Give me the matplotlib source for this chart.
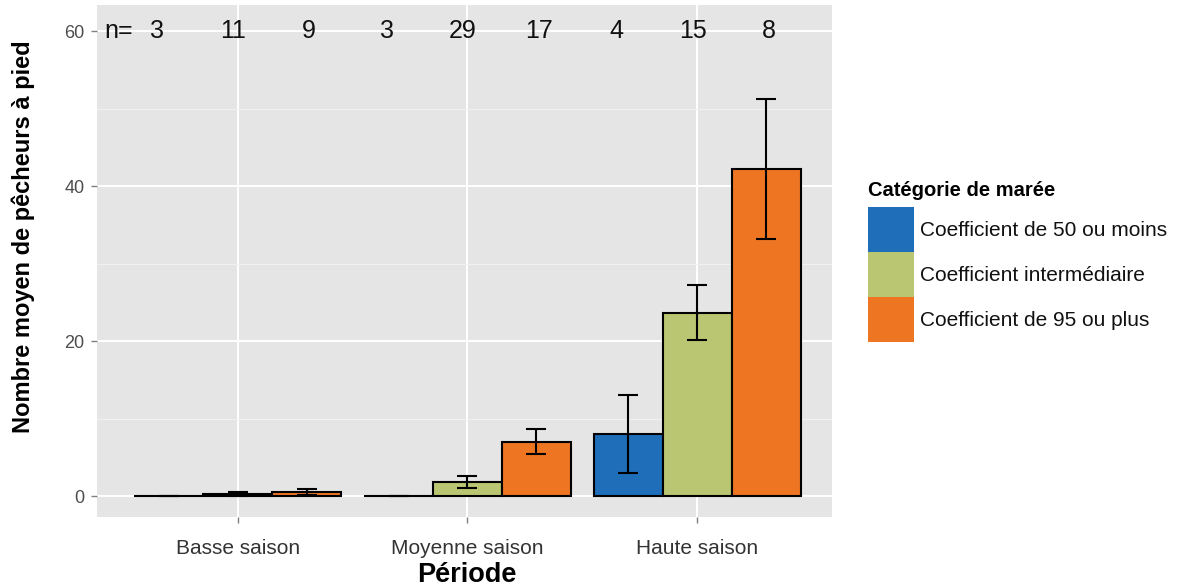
import matplotlib
matplotlib.use("Agg")
import matplotlib.pyplot as plt
from matplotlib.patches import Rectangle
import numpy as np

plt.rcParams['font.family'] = ['Liberation Sans', 'DejaVu Sans']

periods = ["Basse saison", "Moyenne saison", "Haute saison"]
series = ["Coefficient de 50 ou moins", "Coefficient intermédiaire", "Coefficient de 95 ou plus"]
colors = ["#1E6EB9", "#BAC672", "#EE7623"]
means = {
    "Coefficient de 50 ou moins": [0.0, 0.0, 8.0],
    "Coefficient intermédiaire": [0.25, 1.8, 23.7],
    "Coefficient de 95 ou plus": [0.5, 7.0, 42.2],
}
errors = {
    "Coefficient de 50 ou moins": [0.0, 0.0, 5.0],
    "Coefficient intermédiaire": [0.25, 0.8, 3.6],
    "Coefficient de 95 ou plus": [0.4, 1.6, 9.0],
}
n_counts = [[3, 11, 9], [3, 29, 17], [4, 15, 8]]
yticks = [0, 20, 40, 60]

W, H = 1182, 587
fig = plt.figure(figsize=(W / 100, H / 100), dpi=100)
ax = fig.add_axes([97 / W, 1 - 517 / H, (832 - 97) / W, (517 - 5) / H])
ax.set_facecolor("#E5E5E5")
for s in ax.spines.values():
    s.set_visible(False)

x = np.arange(1, len(periods) + 1)
bw = 0.3
for i, name in enumerate(series):
    xs = x + (i - 1) * bw
    ax.bar(xs, means[name], width=bw, color=colors[i], edgecolor="black",
           linewidth=1.5, zorder=3)
    m = np.array(means[name]); e = np.array(errors[name])
    ax.errorbar(xs, m, yerr=e, fmt="none", ecolor="black", elinewidth=1.5,
                capsize=7, capthick=1.5, zorder=4)

ax.set_xlim(0.387, 3.587)
ax.set_ylim(-2.7, 63.4)
ax.set_yticks(yticks)
ax.set_yticks([10, 30, 50], minor=True)
ax.set_xticks(x)
ax.set_xticklabels(periods)
ax.grid(which="major", color="white", linewidth=1.4, zorder=0)
ax.grid(which="minor", axis="y", color="#F2F2F2", linewidth=0.7, zorder=0)
ax.set_axisbelow(True)
ax.tick_params(axis="both", which="major", color="#7F7F7F", length=4, width=1)
ax.tick_params(axis="y", which="minor", length=0)
ax.tick_params(axis="y", labelsize=13, labelcolor="#4D4D4D", pad=5)
ax.tick_params(axis="x", labelsize=15, labelcolor="#333333", pad=12)

# n annotations
ax.text(0.48, 60, "n=", fontsize=18, ha="center", va="center", color="#111111", zorder=5)
offsets = [-0.35, -0.02, 0.31]
for gi, counts in enumerate(n_counts):
    for si, c in enumerate(counts):
        ax.text(x[gi] + offsets[si], 60, str(c), fontsize=18, ha="center",
                va="center", color="#111111", zorder=5)

fig.text(23 / W, 1 - 237 / H, "Nombre moyen de pêcheurs à pied", fontsize=17,
         fontweight="bold", rotation=90, ha="center", va="center")
fig.text(467 / W, 1 - 582 / H, "Période", fontsize=19.5, fontweight="bold",
         ha="center", va="baseline")

# legend
fig.text(868 / W, 1 - 190 / H, "Catégorie de marée", fontsize=14.5, fontweight="bold",
         ha="left", va="center")
key_top = 207
for i, name in enumerate(series):
    y0 = key_top + i * 45
    fig.add_artist(Rectangle((868 / W, 1 - (y0 + 45) / H), 46 / W, 45 / H,
                             transform=fig.transFigure, facecolor=colors[i], edgecolor="none"))
    fig.text(920 / W, 1 - (y0 + 24) / H, name, fontsize=15, ha="left", va="center",
             color="#111111")

fig.savefig("out.png", dpi=100)
